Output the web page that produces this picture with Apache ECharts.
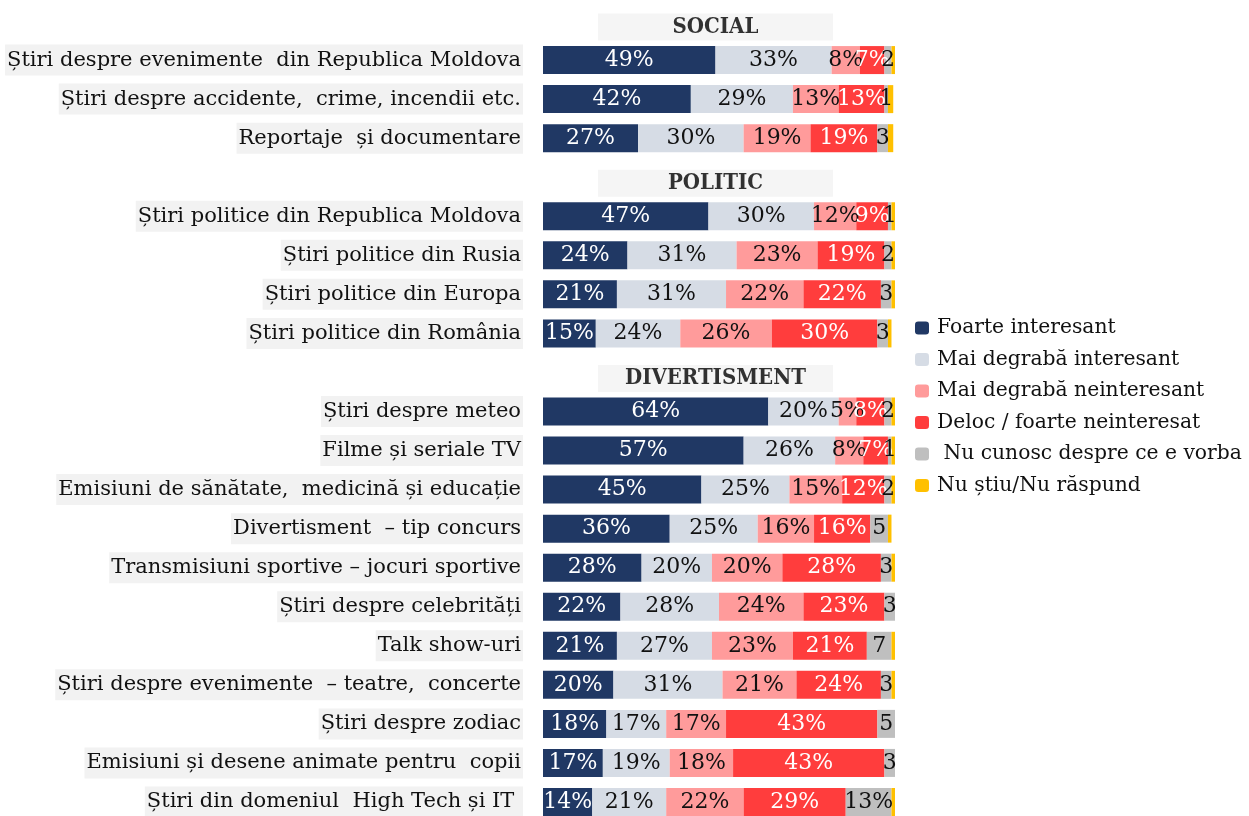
<!DOCTYPE html>
<html><head><meta charset="utf-8">
<script src="https://cdn.jsdelivr.net/npm/echarts@6/dist/echarts.min.js"></script>
<style>html,body{margin:0;padding:0;background:#fff}#c{width:1249px;height:816px}</style>
</head><body><div id="c"></div>
<script>
const categories = [
  'SOCIAL',
  'Știri despre evenimente  din Republica Moldova',
  'Știri despre accidente,  crime, incendii etc.',
  'Reportaje  și documentare',
  'POLITIC',
  'Știri politice din Republica Moldova',
  'Știri politice din Rusia',
  'Știri politice din Europa',
  'Știri politice din România',
  'DIVERTISMENT',
  'Știri despre meteo',
  'Filme și seriale TV',
  'Emisiuni de sănătate,  medicină și educație',
  'Divertisment  – tip concurs',
  'Transmisiuni sportive – jocuri sportive',
  'Știri despre celebrități',
  'Talk show-uri',
  'Știri despre evenimente  – teatre,  concerte',
  'Știri despre zodiac',
  'Emisiuni și desene animate pentru  copii',
  'Știri din domeniul  High Tech și IT '
];
const headers = ['SOCIAL', 'POLITIC', 'DIVERTISMENT'];
const seriesNames = [
  'Foarte interesant',
  'Mai degrabă interesant',
  'Mai degrabă neinteresant',
  'Deloc / foarte neinteresat',
  ' Nu cunosc despre ce e vorba',
  'Nu știu/Nu răspund'
];
// values for the 18 item rows (headers excluded), top to bottom
const foarteInteresant   = [49, 42, 27, 47, 24, 21, 15, 64, 57, 45, 36, 28, 22, 21, 20, 18, 17, 14];
const maiDegrabaInteres  = [33, 29, 30, 30, 31, 31, 24, 20, 26, 25, 25, 20, 28, 27, 31, 17, 19, 21];
const maiDegrabaNeinter  = [8, 13, 19, 12, 23, 22, 26, 5, 8, 15, 16, 20, 24, 23, 21, 17, 18, 22];
const delocNeinteresat   = [7, 13, 19, 9, 19, 22, 30, 8, 7, 12, 16, 28, 23, 21, 24, 43, 43, 29];
const nuCunosc           = [2, 1, 3, 1, 2, 3, 3, 2, 1, 2, 5, 3, 3, 7, 3, 5, 3, 13];
const nuStiu             = [1, 1.5, 1.5, 1, 1, 1, 1, 1, 1, 1, 1, 1, 1, 1.5, 1, 1, 1, 1];
const headerX = 49;

const colors = ['#203864', '#d6dce5', '#ff9b9b', '#ff3d3d', '#bfbfbf', '#ffc000'];
const labelColors = ['#ffffff', '#111111', '#111111', '#ffffff', '#111111', null];
const valueSets = [foarteInteresant, maiDegrabaInteres, maiDegrabaNeinter, delocNeinteresat, nuCunosc, nuStiu];

function expand(vals) {
  const out = [];
  let k = 0;
  categories.forEach(c => {
    if (headers.indexOf(c) >= 0) out.push(null);
    else out.push(vals[k++]);
  });
  return out;
}

const FONT = 'DejaVu Serif';
const series = valueSets.map((vals, i) => ({
  name: seriesNames[i],
  type: 'bar',
  stack: 'total',
  barWidth: 28,
  itemStyle: { color: colors[i] },
  label: {
    show: i < 5,
    position: 'inside',
    color: labelColors[i] || '#000',
    fontFamily: FONT,
    fontSize: 22,
    formatter: p => {
      if (p.value == null) return '';
      if (i === 4) return p.value >= 10 ? p.value + '%' : String(p.value);
      return p.value + '%';
    }
  },
  emphasis: { disabled: true },
  data: expand(vals)
}));

series.push({
  type: 'scatter',
  symbolSize: 0,
  silent: true,
  data: headers.map(h => [headerX, h]),
  label: {
    show: true,
    position: 'inside',
    offset: [0, 6],
    formatter: p => p.value[1],
    fontFamily: "'DejaVu Serif Condensed', 'DejaVu Serif'",
    fontWeight: 'bold',
    fontSize: 22,
    color: '#000',
    backgroundColor: '#f2f2f2',
    width: 235,
    height: 27,
    lineHeight: 27,
    align: 'center',
    verticalAlign: 'middle'
  }
});

const chart = echarts.init(document.getElementById('c'));
chart.setOption({
  animation: false,
  color: colors,
  grid: { left: 543, width: 352, top: 1.5, height: 820, containLabel: false, outerBoundsMode: 'none' },
  xAxis: { type: 'value', min: 0, max: 100, show: false },
  yAxis: {
    type: 'category',
    inverse: true,
    data: categories,
    axisLine: { show: false },
    axisTick: { show: false },
    splitLine: { show: false },
    axisLabel: {
      margin: 20,
      formatter: v => headers.indexOf(v) >= 0 ? '' : '{a|' + v + '}',
      rich: {
        a: {
          fontFamily: FONT,
          fontSize: 21,
          color: '#111',
          backgroundColor: '#f2f2f2',
          padding: [5, 2, 5, 2]
        }
      }
    }
  },
  legend: {
    orient: 'vertical',
    left: 910,
    top: 313,
    itemWidth: 14,
    itemHeight: 13,
    itemGap: 11.5,
    data: seriesNames,
    selectedMode: false,
    textStyle: { fontFamily: FONT, fontSize: 20.3, color: '#111', padding: [0, 0, 0, 3] }
  },
  series: series
});
</script>
</body></html>
